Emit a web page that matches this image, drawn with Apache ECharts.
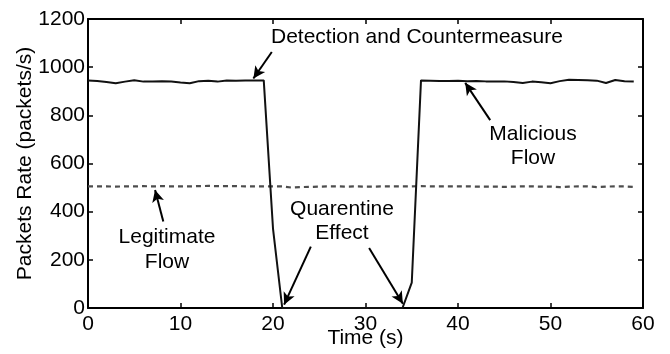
<!DOCTYPE html>
<html>
<head>
<meta charset="utf-8">
<script src="https://cdn.jsdelivr.net/npm/echarts@6/dist/echarts.min.js"></script>
<style>
  html, body { margin: 0; padding: 0; background: #fff; }
  #chart { width: 670px; height: 354px; }
</style>
</head>
<body>
<div id="chart"></div>
<script>
// time in seconds, one sample per second
const timeSec = [];
for (let t = 0; t <= 59; t++) timeSec.push(t);

// malicious flow (packets/s)
const maliciousFlow = [
  945, 943, 938, 933, 940, 946, 940, 941, 942, 940,
  936, 933, 942, 944, 940, 945, 944, 945, 945, 945,
  330, 0, 0, 0, 0, 0, 0, 0, 0, 0,
  0, 0, 0, 0, 0, 105, 945, 944, 943, 943,
  944, 942, 943, 941, 940, 941, 938, 934, 940, 937,
  933, 942, 948, 947, 946, 944, 934, 947, 942, 940
];

// legitimate flow (packets/s)
const legitimateFlow = [
  505, 505, 505, 504, 505, 505, 506, 505, 506, 505,
  505, 505, 506, 507, 506, 506, 506, 505, 505, 505,
  505, 505, 500, 502, 503, 504, 505, 505, 504, 505,
  504, 504, 505, 505, 505, 505, 506, 505, 505, 505,
  505, 505, 504, 504, 504, 503, 504, 505, 505, 504,
  504, 502, 504, 505, 505, 502, 504, 505, 505, 503
];

const xTicks = [0, 10, 20, 30, 40, 50, 60];
const yTicks = [0, 200, 400, 600, 800, 1000, 1200];

// annotation arrows [from, to] in data coordinates
const arrows = [
  [[19.87, 1063], [17.88, 953]],
  [[24.09, 255], [21.2, 14]],
  [[30.39, 249], [34.04, 18]],
  [[43.48, 780], [40.78, 935]],
  [[8.14, 359], [7.25, 490]]
];

const FONT = "'Liberation Sans', Arial, Helvetica, sans-serif";
const FS = 21;

var chartDom = document.getElementById("chart");
var chart = echarts.init(chartDom, null, { renderer: "canvas" });

const axisLine = { show: true, onZero: false, lineStyle: { color: "#000", width: 2 } };
const axisTick = { show: true, inside: true, length: 5, lineStyle: { color: "#000", width: 1.5 } };
const axisLabel = {
  color: "#000", fontSize: FS, fontFamily: FONT,
  formatter: v => String(v)
};

chart.setOption({
  animation: false,
  grid: {
    left: 88, right: 27, top: 19, bottom: 46,
    containLabel: false, outerBoundsMode: "none"
  },
  xAxis: [
    {
      type: "value", min: 0, max: 60, interval: 10,
      name: "Time (s)", nameLocation: "middle", nameGap: 20, nameMoveOverlap: false,
      nameTextStyle: { color: "#000", fontSize: FS, fontFamily: FONT },
      axisLine: axisLine, axisTick: axisTick,
      axisLabel: Object.assign({ margin: 6 }, axisLabel),
      splitLine: { show: false }
    },
    {
      type: "value", position: "top", min: 0, max: 60, interval: 10,
      axisLine: axisLine, axisTick: axisTick,
      axisLabel: { show: false }, splitLine: { show: false }
    }
  ],
  yAxis: [
    {
      type: "value", min: 0, max: 1200, interval: 200,
      name: "Packets Rate (packets/s)", nameLocation: "middle", nameGap: 52, nameMoveOverlap: false,
      nameTextStyle: { color: "#000", fontSize: FS, fontFamily: FONT },
      axisLine: axisLine, axisTick: axisTick,
      axisLabel: Object.assign({ margin: 3 }, axisLabel),
      splitLine: { show: false }
    },
    {
      type: "value", position: "right", min: 0, max: 1200, interval: 200,
      axisLine: axisLine, axisTick: axisTick,
      axisLabel: { show: false }, splitLine: { show: false }
    }
  ],
  series: [
    {
      name: "Legitimate Flow",
      type: "line",
      data: timeSec.map((t, i) => [t, legitimateFlow[i]]),
      showSymbol: false,
      lineStyle: { color: "#4d4d4d", width: 2.2, type: [5, 4] },
      z: 2
    },
    {
      name: "Malicious Flow",
      type: "line",
      data: timeSec.map((t, i) => [t, maliciousFlow[i]]),
      showSymbol: false,
      lineStyle: { color: "#111", width: 2 },
      z: 3,
      markLine: {
        silent: true,
        symbol: ["none", "arrow"],
        symbolSize: [9, 12],
        label: { show: false },
        lineStyle: { color: "#000", width: 2, type: "solid" },
        data: arrows.map(a => [{ coord: a[0] }, { coord: a[1] }])
      }
    }
  ],
  graphic: [
    {
      type: "text", left: 271, top: 27,
      style: { text: "Detection and Countermeasure", fill: "#000", font: FS + "px " + FONT }
    },
    {
      type: "text", x: 342, y: 197,
      style: { text: "Quarentine\nEffect", fill: "#000", font: FS + "px " + FONT, align: "center", lineHeight: 24 }
    },
    {
      type: "text", x: 533, y: 122,
      style: { text: "Malicious\nFlow", fill: "#000", font: FS + "px " + FONT, align: "center", lineHeight: 24 }
    },
    {
      type: "text", x: 167, y: 225,
      style: { text: "Legitimate\nFlow", fill: "#000", font: FS + "px " + FONT, align: "center", lineHeight: 25 }
    }
  ]
});
</script>
</body>
</html>
